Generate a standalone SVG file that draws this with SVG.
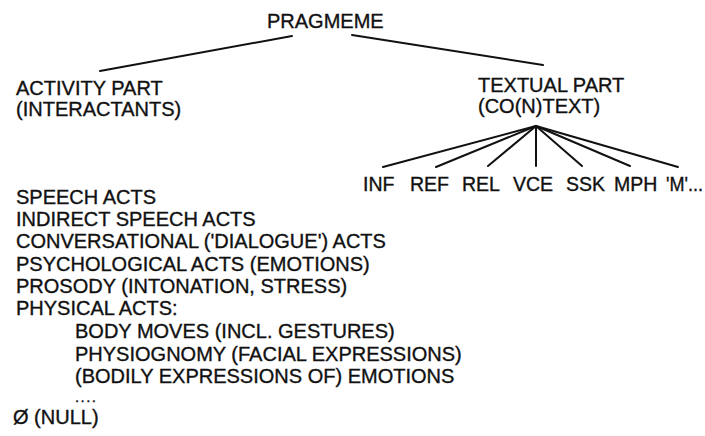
<svg xmlns="http://www.w3.org/2000/svg" width="705" height="436" viewBox="0 0 705 436">
<style>
text{font-family:"Liberation Sans",Arial,sans-serif;font-size:20px;fill:#111;stroke:#111;stroke-width:0.35;}
text.s{font-size:19.5px;}
text.d{font-size:15px;letter-spacing:1.4px;}
.c line{stroke:#111;stroke-width:2;stroke-linecap:round;}
</style>
<rect width="705" height="436" fill="#fff"/>
<g class="c" id="connectors">
<line x1="100" y1="71" x2="292" y2="36"/>
<line x1="352" y1="35" x2="543" y2="65"/>
<line x1="536" y1="126" x2="383" y2="167"/>
<line x1="536" y1="126" x2="436" y2="167"/>
<line x1="536" y1="126" x2="488" y2="166"/>
<line x1="536" y1="126" x2="536" y2="166"/>
<line x1="536" y1="126" x2="582" y2="166"/>
<line x1="536" y1="126" x2="630" y2="166"/>
<line x1="536" y1="126" x2="678" y2="167"/>
</g>
<g id="pragmeme"><text x="267" y="28">PRAGMEME</text></g>
<g id="activity"><text x="16" y="95">ACTIVITY PART</text><text x="16" y="116">(INTERACTANTS)</text></g>
<g id="textual"><text x="478" y="92">TEXTUAL PART</text><text x="478" y="113">(CO(N)TEXT)</text></g>
<g id="inf"><text class="s" x="363" y="191">INF</text></g>
<g id="ref"><text class="s" x="410" y="191">REF</text></g>
<g id="rel"><text class="s" x="462" y="191">REL</text></g>
<g id="vce"><text class="s" x="513" y="191">VCE</text></g>
<g id="ssk"><text class="s" x="566" y="191">SSK</text></g>
<g id="mph"><text class="s" x="614" y="191">MPH</text></g>
<g id="m"><text class="s" x="666" y="191" textLength="37" lengthAdjust="spacingAndGlyphs">'M'...</text></g>
<g id="acts">
<text x="16" y="204">SPEECH ACTS</text>
<text x="16" y="226">INDIRECT SPEECH ACTS</text>
<text x="16" y="248">CONVERSATIONAL ('DIALOGUE') ACTS</text>
<text x="16" y="270.5">PSYCHOLOGICAL ACTS (EMOTIONS)</text>
<text x="16" y="293">PROSODY (INTONATION, STRESS)</text>
<text x="16" y="315">PHYSICAL ACTS:</text>
<text x="75" y="338">BODY MOVES (INCL. GESTURES)</text>
<text x="75" y="360.5">PHYSIOGNOMY (FACIAL EXPRESSIONS)</text>
<text x="75" y="383">(BODILY EXPRESSIONS OF) EMOTIONS</text>
<text class="d" x="75" y="402">....</text>
<text x="13" y="424">Ø (NULL)</text>
</g>
</svg>
